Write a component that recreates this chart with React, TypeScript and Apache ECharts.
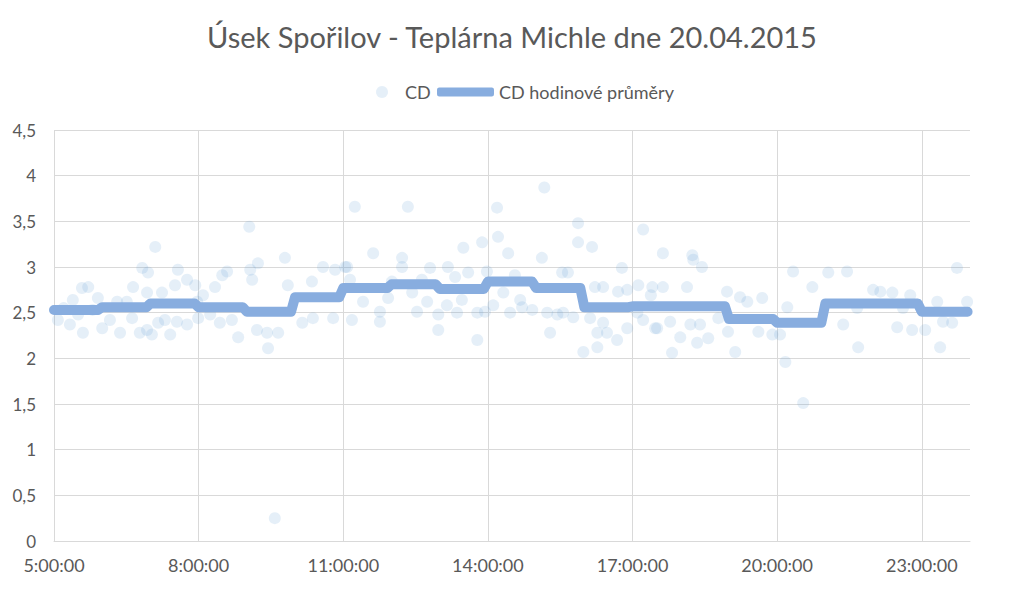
import React, { useEffect, useRef } from "react";
import * as echarts from "echarts";

const titleText = "Úsek Spořilov - Teplárna Michle dne 20.04.2015";
const scatterName = "CD";
const lineName = "CD hodinové průměry";

const startHour = 5;
const endHour = 24;
const xTickHours = [5, 8, 11, 14, 17, 20, 23];
const yTicks = [0, 0.5, 1, 1.5, 2, 2.5, 3, 3.5, 4, 4.5];

// hourly averages, one for each hour from 5:00 to 23:00
const avgHours = [5, 6, 7, 8, 9, 10, 11, 12, 13, 14, 15, 16, 17, 18, 19, 20, 21, 22, 23];
const avgValues = [2.53, 2.56, 2.6, 2.56, 2.51, 2.67, 2.77, 2.81, 2.76, 2.84, 2.77, 2.56, 2.57, 2.57, 2.43, 2.39, 2.6, 2.6, 2.51];

// individual measurements [hour of day, value]
const cdPoints: [number, number][] = [
  [5.08, 2.42], [5.2, 2.55], [5.33, 2.37], [5.39, 2.64], [5.5, 2.48], [5.58, 2.77], [5.6, 2.28],
  [5.71, 2.78], [5.8, 2.53], [5.91, 2.66], [6.0, 2.33], [6.16, 2.42], [6.31, 2.62], [6.37, 2.28],
  [6.51, 2.62], [6.62, 2.44], [6.64, 2.78], [6.78, 2.28], [6.83, 2.99], [6.93, 2.72], [6.93, 2.31],
  [6.95, 2.94], [7.03, 2.26], [7.1, 3.22], [7.16, 2.39], [7.24, 2.72], [7.3, 2.42], [7.41, 2.26],
  [7.51, 2.8], [7.55, 2.4], [7.57, 2.97], [7.76, 2.86], [7.76, 2.37], [7.93, 2.8], [7.97, 2.62],
  [7.99, 2.44], [8.09, 2.69], [8.24, 2.48], [8.34, 2.78], [8.44, 2.39], [8.49, 2.91], [8.59, 2.95],
  [8.69, 2.42], [8.82, 2.23], [9.05, 3.44], [9.07, 2.97], [9.11, 2.86], [9.21, 2.31], [9.23, 3.04],
  [9.42, 2.28], [9.44, 2.11], [9.58, 0.25], [9.65, 2.28], [9.79, 3.1], [9.85, 2.8], [10.15, 2.39],
  [10.35, 2.84], [10.37, 2.44], [10.58, 3.0], [10.79, 2.44], [10.83, 2.97], [11.04, 3.0], [11.08, 3.0],
  [11.14, 2.86], [11.18, 2.42], [11.24, 3.66], [11.41, 2.62], [11.62, 3.15], [11.76, 2.51], [11.76, 2.4],
  [11.93, 2.66], [12.01, 2.84], [12.22, 3.1], [12.22, 3.0], [12.34, 3.66], [12.43, 2.72], [12.53, 2.51],
  [12.63, 2.86], [12.74, 2.62], [12.8, 2.99], [12.97, 2.48], [12.97, 2.31], [13.15, 2.58], [13.17, 3.0],
  [13.32, 2.89], [13.36, 2.5], [13.46, 2.64], [13.49, 3.21], [13.59, 2.94], [13.78, 2.5], [13.78, 2.2],
  [13.88, 3.27], [13.94, 2.51], [13.98, 2.95], [14.11, 2.58], [14.19, 3.65], [14.21, 3.33], [14.32, 2.72],
  [14.42, 3.15], [14.46, 2.5], [14.56, 2.91], [14.67, 2.64], [14.71, 2.56], [14.92, 2.53], [15.12, 3.1],
  [15.17, 3.87], [15.23, 2.5], [15.29, 2.28], [15.44, 2.48], [15.54, 2.94], [15.56, 2.5], [15.66, 2.94],
  [15.77, 2.45], [15.87, 3.48], [15.87, 3.27], [15.98, 2.07], [16.12, 2.44], [16.16, 3.22], [16.22, 2.78],
  [16.27, 2.28], [16.27, 2.12], [16.39, 2.39], [16.39, 2.78], [16.47, 2.28], [16.68, 2.2], [16.7, 2.73],
  [16.78, 2.99], [16.89, 2.33], [16.89, 2.75], [17.1, 2.5], [17.12, 2.8], [17.22, 3.41], [17.22, 2.42],
  [17.38, 2.69], [17.41, 2.78], [17.47, 2.33], [17.51, 2.33], [17.63, 3.15], [17.63, 2.78], [17.78, 2.4],
  [17.82, 2.06], [17.99, 2.23], [18.13, 2.78], [18.2, 2.37], [18.24, 3.13], [18.26, 3.08], [18.34, 2.17],
  [18.4, 2.37], [18.44, 3.0], [18.57, 2.22], [18.78, 2.44], [18.96, 2.73], [18.98, 2.29], [19.13, 2.07],
  [19.23, 2.67], [19.38, 2.62], [19.61, 2.29], [19.69, 2.66], [19.9, 2.26], [20.06, 2.26], [20.17, 1.96],
  [20.21, 2.56], [20.33, 2.95], [20.54, 1.51], [20.73, 2.78], [21.06, 2.94], [21.37, 2.37], [21.45, 2.95],
  [21.66, 2.55], [21.68, 2.12], [21.99, 2.75], [22.14, 2.73], [22.39, 2.72], [22.49, 2.34], [22.61, 2.55],
  [22.76, 2.69], [22.8, 2.31], [23.07, 2.31], [23.32, 2.62], [23.38, 2.12], [23.44, 2.4], [23.63, 2.39],
  [23.73, 2.99], [23.94, 2.62],
];

const textColor = "#595959";
const gridColor = "#d9d9d9";
const fontFamily = "Lato, 'Open Sans', sans-serif";

function fmtHour(h: number): string {
  return `${h}:00:00`;
}

export default function App() {
  const ref = useRef<HTMLDivElement>(null);

  useEffect(() => {
    if (!ref.current) return;
    const chart = echarts.init(ref.current, undefined, { renderer: "svg" });

    // x values are hours since startHour, so the 3-hour ticks start from 0
    const scatterData = cdPoints.map(([h, v]) => [h - startHour, v]);
    const lineData: number[][] = [];
    avgHours.forEach((h, i) => {
      lineData.push([h - startHour, avgValues[i]]);
      const end = i === avgHours.length - 1 ? endHour - startHour - 0.05 : h + 55 / 60 - startHour;
      lineData.push([end, avgValues[i]]);
    });

    chart.setOption({
      animation: false,
      backgroundColor: "#ffffff",
      title: {
        text: titleText,
        left: "center",
        top: 17,
        textStyle: { color: textColor, fontSize: 29, fontWeight: "normal", fontFamily },
      },
      legend: [
        {
          data: [{ name: scatterName, icon: "circle" }],
          left: 371,
          top: 78,
          itemWidth: 36,
          itemHeight: 12,
          textStyle: { color: textColor, fontSize: 18, fontFamily },
        },
        {
          data: [{ name: lineName, icon: "roundRect" }],
          left: 432,
          top: 78,
          itemWidth: 57,
          itemHeight: 9,
          textStyle: { color: textColor, fontSize: 18, fontFamily },
        },
      ],
      grid: { left: 54, right: 54, top: 130, bottom: 49, containLabel: false },
      xAxis: {
        type: "value",
        min: 0,
        max: endHour - startHour,
        interval: 3,
        axisLine: { show: true, lineStyle: { color: gridColor, width: 1 } },
        axisTick: { show: false },
        axisLabel: {
          color: textColor,
          fontSize: 18,
          fontFamily,
          margin: 15,
          showMaxLabel: false,
          formatter: (v: number) => (xTickHours.includes(v + startHour) ? fmtHour(v + startHour) : ""),
        },
        splitLine: { show: true, showMaxLine: false, lineStyle: { color: gridColor, width: 1 } },
      },
      yAxis: {
        type: "value",
        min: yTicks[0],
        max: yTicks[yTicks.length - 1],
        interval: 0.5,
        axisLine: { show: false },
        axisTick: { show: false },
        axisLabel: {
          color: textColor,
          fontSize: 17,
          fontFamily,
          margin: 18,
          formatter: (v: number) => String(v).replace(".", ","),
        },
        splitLine: { show: true, lineStyle: { color: gridColor, width: 1 } },
      },
      series: [
        {
          name: scatterName,
          type: "scatter",
          data: scatterData,
          symbol: "circle",
          symbolSize: 12,
          itemStyle: { color: "rgba(91,155,213,0.2)" },
          z: 2,
        },
        {
          name: lineName,
          type: "line",
          data: lineData,
          showSymbol: false,
          symbol: "none",
          lineStyle: { color: "#88addf", width: 10, cap: "round", join: "round" },
          itemStyle: { color: "#88addf" },
          z: 3,
        },
      ],
    });

    return () => chart.dispose();
  }, []);

  return (
    <div
      ref={ref}
      style={{ position: "fixed", left: 0, top: 0, width: 1024, height: 590, background: "#fff" }}
    />
  );
}
